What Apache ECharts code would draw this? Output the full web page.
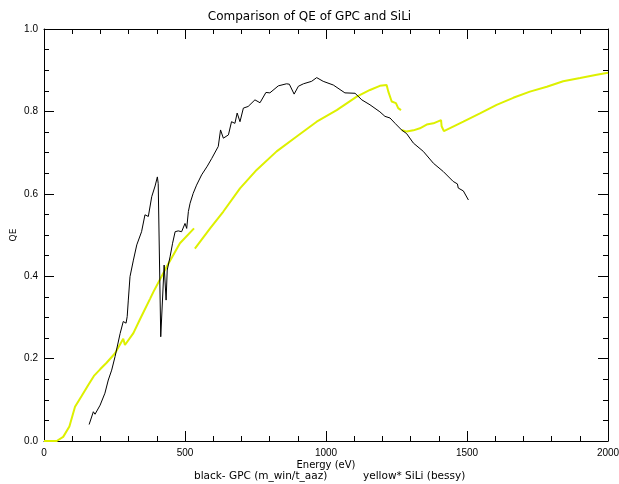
<!DOCTYPE html>
<html><head><meta charset="utf-8">
<script src="https://cdn.jsdelivr.net/npm/echarts@6/dist/echarts.min.js"></script>
<style>html,body{margin:0;padding:0;background:#fff}#c{width:619px;height:484px}</style>
</head><body><div id="c"></div>
<script>
const titleText = "Comparison of QE of GPC and SiLi";
const xName = "Energy (eV)";
const yName = "QE";
const footerLeft = "black- GPC (m_win/t_aaz)";
const footerRight = "yellow* SiLi (bessy)";

const gpcE = [160,175,181,199,216,228,240,252,270,281,291,295,299,305,317,329,346,358,370,382,394,402,405,414,426,433,437,447,456,465,476,488,500,506,512,518,529,541,559,579,595,618,626,636,654,665,677,685,695,707,724,748,766,787,801,831,860,870,887,902,920,949,967,990,1026,1067,1103,1127,1156,1191,1209,1227,1245,1268,1286,1310,1345,1381,1416,1451,1466,1469,1487,1505];
const gpcQE = [0.040,0.071,0.065,0.087,0.116,0.148,0.172,0.205,0.261,0.290,0.286,0.302,0.342,0.399,0.439,0.476,0.508,0.549,0.545,0.593,0.619,0.641,0.625,0.253,0.427,0.342,0.415,0.447,0.480,0.508,0.510,0.508,0.528,0.516,0.557,0.577,0.601,0.621,0.646,0.667,0.686,0.715,0.755,0.735,0.743,0.775,0.771,0.796,0.775,0.808,0.812,0.828,0.821,0.846,0.845,0.862,0.867,0.866,0.842,0.861,0.867,0.873,0.882,0.873,0.864,0.845,0.844,0.828,0.816,0.799,0.788,0.784,0.771,0.755,0.746,0.723,0.703,0.674,0.654,0.630,0.624,0.614,0.607,0.585];

const siliE = [0,45,68,90,110,134,157,177,199,222,252,281,284,287,317,340,376,388,435,482,532,533,535,589,636,695,754,825,896,967,1038,1109,1156,1191,1215,1221,1233,1248,1256,1266,1267,1268,1286,1310,1333,1357,1381,1408,1410,1418,1487,1546,1605,1664,1723,1783,1841,1901,1960,2000];
const siliQE = [0,0,0.010,0.035,0.083,0.110,0.136,0.158,0.174,0.190,0.213,0.248,0.249,0.233,0.262,0.295,0.345,0.362,0.423,0.480,0.516,null,0.467,0.516,0.557,0.613,0.658,0.703,0.739,0.775,0.803,0.836,0.852,0.862,0.864,0.848,0.824,0.820,0.808,0.803,null,0.755,0.751,0.754,0.759,0.768,0.771,0.779,0.764,0.752,0.775,0.795,0.816,0.833,0.848,0.860,0.873,0.881,0.889,0.894];

const xTicks = [0,500,1000,1500,2000];
const yTicks = [0,0.2,0.4,0.6,0.8,1.0];

const FONT = "DejaVu Sans";
const LFONT = "Liberation Sans";
const gpcData = gpcE.map((e,i)=>[e,gpcQE[i]]);
const siliData = siliE.map((e,i)=>[e, siliQE[i]===null ? '-' : siliQE[i]]);

function axisBase(){
  return {
    axisLine:{show:true,onZero:false,lineStyle:{color:'#000',width:1}},
    axisTick:{show:true,inside:true,length:10,lineStyle:{color:'#000'}},
    splitLine:{show:false}
  };
}
const chart = echarts.init(document.getElementById('c'));
chart.setOption({
  animation:false,
  backgroundColor:'#fff',
  title:{text:titleText,left:'center',top:6,textStyle:{fontFamily:FONT,fontSize:12,fontWeight:'normal',color:'#000'}},
  grid:{left:44,right:11,top:29,bottom:43,containLabel:false,outerBoundsMode:'none'},
  xAxis:[
    Object.assign(axisBase(),{type:'value',min:0,max:2000,interval:500,position:'bottom',
      name:xName,nameLocation:'middle',nameGap:19,nameMoveOverlap:false,
      nameTextStyle:{fontFamily:FONT,fontSize:10,color:'#000'},
      minorTick:{show:true,splitNumber:5,length:5,lineStyle:{color:'#000'}},
      axisLabel:{show:true,color:'#000',fontFamily:LFONT,fontSize:10,margin:7,formatter:v=>xTicks.includes(v)?String(v):''}}),
    Object.assign(axisBase(),{type:'value',min:0,max:2000,interval:500,position:'top',
      axisLabel:{show:false},
      minorTick:{show:true,splitNumber:5,length:5,lineStyle:{color:'#000'}}})
  ],
  yAxis:[
    Object.assign(axisBase(),{type:'value',min:0,max:1,interval:0.2,position:'left',
      name:yName,nameLocation:'middle',nameGap:26,nameRotate:90,nameMoveOverlap:false,
      nameTextStyle:{fontFamily:FONT,fontSize:9,color:'#000'},
      minorTick:{show:true,splitNumber:4,length:5,lineStyle:{color:'#000'}},
      axisLabel:{show:true,color:'#000',fontFamily:LFONT,fontSize:10,margin:6,formatter:v=>yTicks.some(t=>Math.abs(t-v)<1e-9)?v.toFixed(1):''}}),
    Object.assign(axisBase(),{type:'value',min:0,max:1,interval:0.2,position:'right',
      axisLabel:{show:false},
      minorTick:{show:true,splitNumber:4,length:5,lineStyle:{color:'#000'}}})
  ],
  series:[
    {type:'line',name:'SiLi',data:siliData,xAxisIndex:0,yAxisIndex:0,showSymbol:false,connectNulls:false,
      lineStyle:{color:'#DDF000',width:2},itemStyle:{color:'#DDF000'},z:2},
    {type:'line',name:'GPC',data:gpcData,xAxisIndex:0,yAxisIndex:0,showSymbol:false,
      lineStyle:{color:'#000',width:1},itemStyle:{color:'#000'},z:3}
  ],
  graphic:[
    {type:'text',x:194,y:476,style:{text:footerLeft,font:'10.5px "DejaVu Sans"',fill:'#000',verticalAlign:'middle'}},
    {type:'text',x:363,y:476,style:{text:footerRight,font:'10.5px "DejaVu Sans"',fill:'#000',verticalAlign:'middle'}}
  ]
});
</script></body></html>
